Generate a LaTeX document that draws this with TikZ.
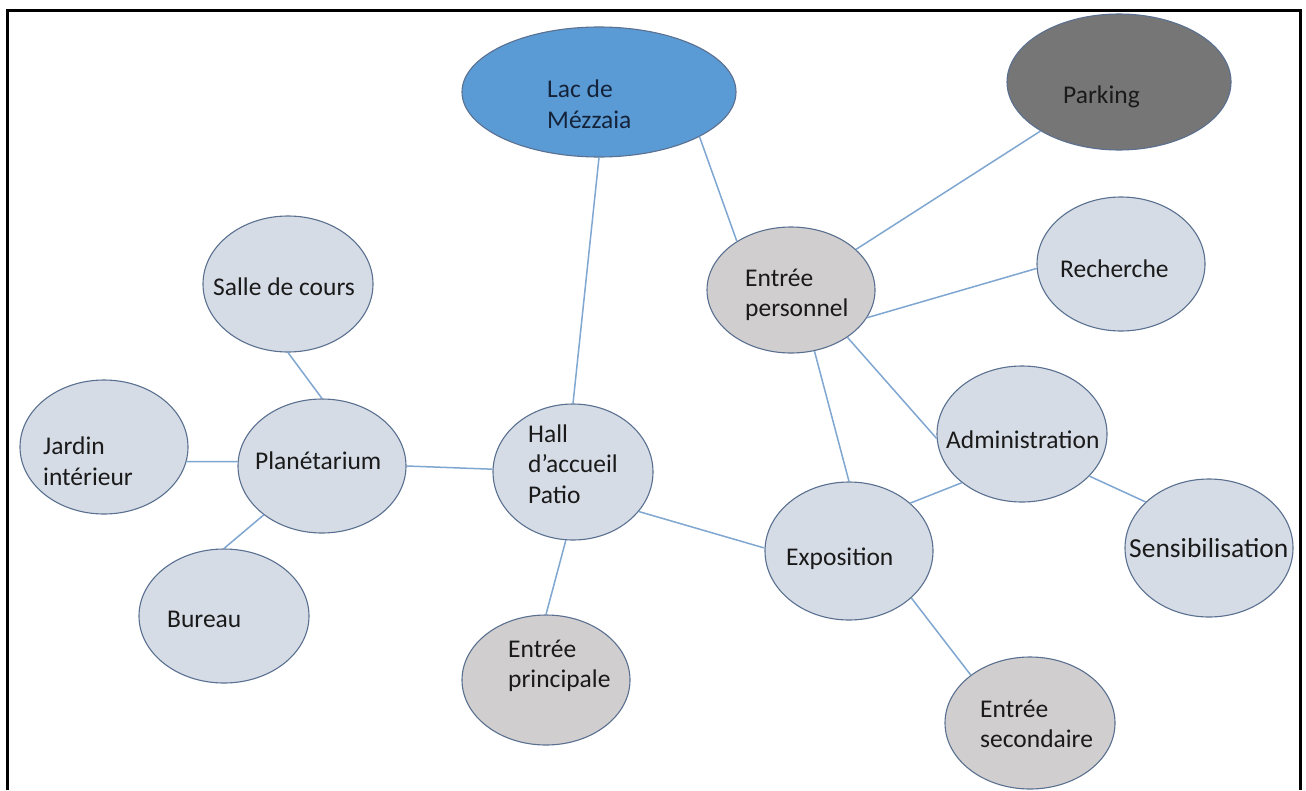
\documentclass[tikz,border=0pt]{standalone}
\usepackage{fontspec}
\setmainfont{Carlito}
\usetikzlibrary{shapes.geometric}
\definecolor{lightfill}{HTML}{D6DCE5}
\definecolor{grayfill}{HTML}{D0CECE}
\definecolor{lakefill}{HTML}{5B9BD5}
\definecolor{parkfill}{HTML}{767676}
\definecolor{edgecol}{HTML}{5A7090}
\definecolor{linkcol}{HTML}{7FA7D1}
\definecolor{txtcol}{HTML}{1A1A1A}
\definecolor{laketxt}{HTML}{14233A}
\begin{document}
\begin{tikzpicture}[x=1pt,y=-1pt,
  bub/.style={ellipse, draw=edgecol, line width=1.1pt, inner sep=0pt, fill=lightfill},
  lab/.style={inner sep=0pt, font=\fontsize{25.5}{30.5}\selectfont, text=txtcol, align=left},
  link/.style={draw=linkcol, line width=1.5pt}]
\useasboundingbox (0,0) rectangle (1306,790);
\fill[white] (0,0) rectangle (1306,790);
\draw[line width=3pt] (7,790) -- (7,10) -- (1300,10) -- (1300,790);

% ellipses
\node[bub, fill=lakefill, minimum width=274pt, minimum height=130pt] (lac) at (599,92) {};
\node[bub, fill=parkfill, minimum width=224pt, minimum height=136pt] (park) at (1119,82) {};
\node[bub, fill=grayfill, minimum width=168pt, minimum height=126pt] (ep) at (791,290) {};
\node[bub, minimum width=168pt, minimum height=134pt] (rech) at (1121,264) {};
\node[bub, minimum width=170pt, minimum height=136pt] (sdc) at (288,284) {};
\node[bub, minimum width=168pt, minimum height=134pt] (jar) at (104,447) {};
\node[bub, minimum width=168pt, minimum height=134pt] (plan) at (322,466) {};
\node[bub, minimum width=170pt, minimum height=134pt] (bur) at (224,616) {};
\node[bub, minimum width=160pt, minimum height=136pt] (hall) at (573,472) {};
\node[bub, fill=grayfill, minimum width=168pt, minimum height=130pt] (epr) at (546,680) {};
\node[bub, minimum width=168pt, minimum height=138pt] (expo) at (849,551) {};
\node[bub, minimum width=170pt, minimum height=136pt] (adm) at (1022,434) {};
\node[bub, minimum width=168pt, minimum height=138pt] (sens) at (1209,548) {};
\node[bub, fill=grayfill, minimum width=170pt, minimum height=132pt] (es) at (1030,723) {};

% connectors
\draw[link] (lac.-90) -- (hall.90);
\draw[link] (lac.-24) -- (ep.138);
\draw[link] (park.-148) -- (ep.32);
\draw[link] (ep.-20) -- (rech.183);
\draw[link] (ep.-40) -- (adm.183);
\draw[link] (ep.-69) -- (expo.90);
\draw[link] (hall.178) -- (plan.0);
\draw[link] (sdc.-90) -- (plan.90);
\draw[link] (jar.-10) -- (plan.177);
\draw[link] (plan.220) -- (bur.90);
\draw[link] (hall.-96) -- (epr.90);
\draw[link] (hall.-31) -- (expo.178);
\draw[link] (expo.38) -- (adm.219);
\draw[link] (adm.-32) -- (sens.144);
\draw[link] (expo.-37) -- (es.141);

% labels
\node[lab, text=laketxt, anchor=west] (lac-t) at (547,104) {Lac de\\Mézzaia};
\node[lab, anchor=base west] (park-t) at (1063,103) {Parking};
\node[lab, anchor=west] (ep-t) at (745,295) {Entrée\\personnel};
\node[lab, anchor=base west] (rech-t) at (1060,277) {Recherche};
\node[lab, anchor=base west] (sdc-t) at (213,295) {Salle de cours};
\node[lab, anchor=west] (jar-t) at (43,461) {Jardin\\intérieur};
\node[lab, anchor=base west] (plan-t) at (255,469) {Planétarium};
\node[lab, anchor=base west] (bur-t) at (167,627) {Bureau};
\node[lab, anchor=west] (hall-t) at (528,464) {Hall\\d’accueil\\Patio};
\node[lab, anchor=west] (epr-t) at (508,666) {Entrée\\principale};
\node[lab, anchor=base west] (expo-t) at (786,565) {Exposition};
\node[lab, anchor=base west] (adm-t) at (946,448) {Administration};
\node[lab, anchor=base west, font=\fontsize{27.5}{32}\selectfont] (sens-t) at (1129,557) {Sensibilisation};
\node[lab, anchor=west] (es-t) at (980,724) {Entrée\\secondaire};
\end{tikzpicture}
\end{document}
